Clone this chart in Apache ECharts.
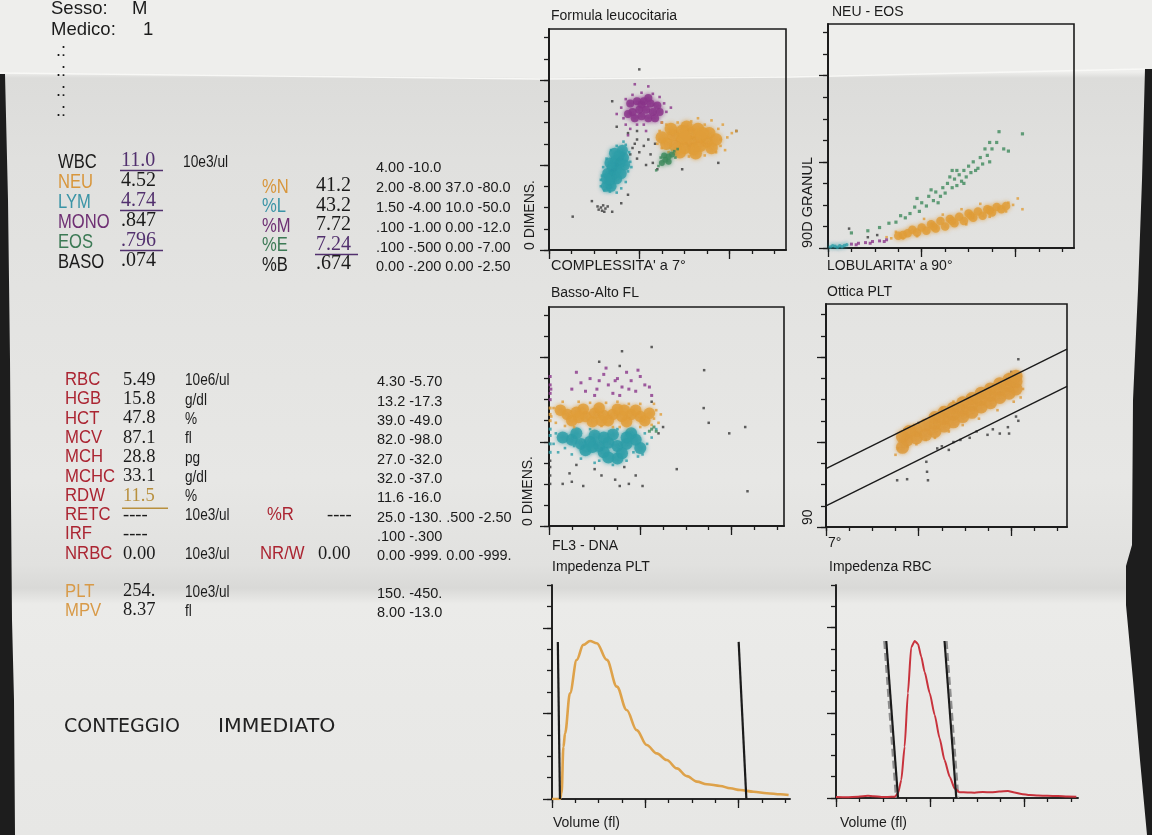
<!DOCTYPE html>
<html>
<head>
<meta charset="utf-8">
<script src="https://cdn.jsdelivr.net/npm/echarts@6/dist/echarts.min.js"></script>
<style>
  html, body { margin: 0; padding: 0; background: #e6e6e4; }
  #report {
    width: 1152px; height: 835px;
    background: linear-gradient(180deg, #eeeeec 0px, #eeeeec 72px, #dcdcda 78px, #e0e0de 160px,
      #e4e4e2 330px, #e7e7e5 480px, #e1e1df 565px, #d9d9d7 588px, #ebebe9 604px, #e9e9e7 700px, #e7e7e5 835px);
  }
</style>
</head>
<body>
<div id="report"></div>
<script>
// ---- referto: testi ----
const headerLabels = ["Sesso:", "Medico:"];
const headerValues = ["M", "1"];
const wbcLabels = ["WBC", "NEU", "LYM", "MONO", "EOS", "BASO"];
const wbcValues = ["11.0", "4.52", "4.74", ".847", ".796", ".074"];
const wbcFlags = ["H", "", "H", "", "H", ""];
const pctLabels = ["%N", "%L", "%M", "%E", "%B"];
const pctValues = ["41.2", "43.2", "7.72", "7.24", ".674"];
const pctFlags = ["", "", "", "H", ""];
const wbcRanges = ["4.00 -10.0", "2.00 -8.00 37.0 -80.0", "1.50 -4.00 10.0 -50.0",
  ".100 -1.00 0.00 -12.0", ".100 -.500 0.00 -7.00", "0.00 -.200 0.00 -2.50"];
const rbcLabels = ["RBC", "HGB", "HCT", "MCV", "MCH", "MCHC", "RDW", "RETC", "IRF", "NRBC"];
const rbcValues = ["5.49", "15.8", "47.8", "87.1", "28.8", "33.1", "11.5", "----", "----", "0.00"];
const rbcFlags = ["", "", "", "", "", "", "L", "", "", ""];
const rbcUnits = ["10e6/ul", "g/dl", "%", "fl", "pg", "g/dl", "%", "10e3/ul", "", "10e3/ul"];
const rbcRanges = ["4.30 -5.70", "13.2 -17.3", "39.0 -49.0", "82.0 -98.0", "27.0 -32.0",
  "32.0 -37.0", "11.6 -16.0", "25.0 -130. .500 -2.50", ".100 -.300", "0.00 -999. 0.00 -999."];
const extraLabels = ["%R", "NR/W"];
const extraValues = ["----", "0.00"];
const pltLabels = ["PLT", "MPV"];
const pltValues = ["254.", "8.37"];
const pltUnits = ["10e3/ul", "fl"];
const pltRanges = ["150. -450.", "8.00 -13.0"];
const note = ["CONTEGGIO", "IMMEDIATO"];

// ---- tacche degli assi ----
const minorTicks = [0, 1, 2, 3, 4, 5, 6, 7, 8, 9, 10];
const majorTicks = [0, 4, 8];

// ---- Formula leucocitaria ----
const flNeuCore = [[5.2,5.0],[5.5,5.4],[5.6,4.9],[5.9,5.2],[5.9,5.6],[6.0,4.8],[6.3,5.1],[6.3,5.5],[6.4,4.75],[6.7,5.3],[6.7,4.9],[7.0,5.1],[7.1,5.5],[7.2,4.8],[5.4,5.7],[6.1,5.8],[6.6,5.7],[5.0,5.3],[7.4,5.2],[5.8,4.6],[6.5,4.55],[6.0,5.35],[6.8,5.5]];
const flNeuHalo = [[4.9,5.2],[4.9,5.6],[5.0,4.8],[5.2,5.9],[5.7,6.0],[6.3,6.05],[6.9,5.9],[7.5,5.7],[7.6,5.2],[7.6,4.9],[7.4,4.6],[6.9,4.45],[6.2,4.4],[5.5,4.55],[7.9,5.3],[8.1,5.5],[7.8,4.7],[6.6,6.2],[5.0,6.0],[7.2,6.1],[4.8,5.0],[8.3,5.6],[5.3,4.6],[7.7,5.9]];
const flLymCore = [[2.55,3.0],[2.7,3.3],[2.6,3.6],[2.85,3.55],[2.8,3.9],[3.0,3.8],[2.95,4.2],[3.15,4.1],[3.1,4.45],[3.3,4.35],[3.25,4.7],[2.75,3.0],[3.0,3.35],[2.7,4.1],[3.35,4.0],[3.2,3.6],[2.55,3.35],[2.9,4.55]];
const flLymHalo = [[2.3,3.0],[2.35,3.5],[2.4,3.9],[2.55,4.3],[2.75,4.7],[3.0,4.9],[3.4,4.95],[3.55,4.6],[3.6,4.15],[3.5,3.7],[3.4,3.2],[3.2,2.9],[3.0,2.7],[2.7,2.75],[2.45,2.8],[3.65,3.9],[3.3,5.1],[2.3,3.3]];
const flMonoCore = [[3.6,6.9],[3.9,7.0],[4.2,7.0],[4.5,6.9],[4.8,6.8],[3.7,6.5],[4.0,6.6],[4.3,6.6],[4.6,6.5],[3.8,6.2],[4.1,6.3],[4.4,6.2],[4.7,6.2],[4.9,6.5],[3.5,6.4],[4.1,6.85],[4.4,7.15]];
const flMonoHalo = [[3.2,6.7],[3.3,6.2],[3.4,5.9],[3.6,5.7],[3.9,5.9],[4.2,5.9],[5.0,6.0],[5.2,6.5],[5.1,6.9],[4.9,7.2],[4.6,7.35],[4.1,7.4],[3.7,7.3],[3.4,7.1],[4.4,7.7],[3.8,7.8],[5.4,6.7],[3.0,6.4],[3.5,5.4],[4.3,5.6]];
const flEosCore = [[5.0,4.1],[5.15,4.25],[5.3,4.4],[5.1,4.45],[5.3,4.15],[5.45,4.5]];
const flEosHalo = [[4.85,3.95],[5.55,4.65],[5.6,4.35],[4.95,4.35],[5.7,4.75],[4.75,3.75]];
const flDebris = [[2.2,1.9],[2.3,2.0],[2.4,2.1],[2.5,1.95],[2.35,1.85],[2.6,2.05],[2.15,2.05],[2.45,1.8],[3.7,4.8],[3.8,5.0],[3.9,5.2],[4.0,4.6],[4.2,4.9],[4.5,4.5],[4.4,5.2],[4.6,4.1],[4.8,3.8],[4.3,4.0],[3.6,4.5],[3.9,4.3],[3.5,5.5],[4.7,5.0],[3.9,5.6],[1.9,2.3],[3.2,2.2],[3.5,2.6],[2.8,1.8],[1.05,1.57],[5.9,3.8],[7.5,4.1],[8.3,5.6],[4.0,8.5],[2.8,7.0],[3.0,5.8]];

// ---- NEU - EOS ----
const neNeuCore = [[3.0,0.57],[3.2,0.6],[3.4,0.69],[3.6,0.85],[3.8,0.72],[4.0,0.95],[4.2,0.8],[4.4,1.1],[4.5,1.0],[4.6,0.9],[4.8,1.25],[5.0,1.0],[5.2,1.35],[5.3,1.25],[5.4,1.15],[5.6,1.45],[5.8,1.25],[6.0,1.6],[6.1,1.5],[6.2,1.4],[6.4,1.7],[6.6,1.5],[6.8,1.8],[6.9,1.75],[7.0,1.65],[7.2,1.9],[7.4,1.8],[7.6,1.95]];
const neNeuHalo = [[2.7,0.45],[2.9,0.75],[3.2,0.45],[7.7,2.1],[7.9,2.0],[8.1,2.3],[7.6,1.7],[4.1,1.35],[4.9,1.55],[5.7,1.8],[6.5,2.05],[5.9,1.1],[6.9,1.45],[3.8,0.55],[8.3,1.8],[2.5,0.5]];
const neEos = [[3.5,1.6],[3.7,1.9],[3.9,1.7],[4.0,2.1],[4.2,1.95],[4.3,2.4],[4.5,2.2],[4.6,2.6],[4.8,2.4],[4.9,2.8],[5.0,2.55],[5.1,3.0],[5.3,2.8],[5.4,3.2],[5.5,2.9],[5.6,3.4],[5.7,3.1],[5.8,3.6],[5.9,3.3],[6.0,3.8],[6.1,3.5],[6.2,4.0],[6.4,3.7],[6.5,4.2],[6.6,3.9],[6.8,4.3],[6.9,4.0],[7.0,4.6],[4.4,2.7],[5.2,3.3],[5.8,3.0],[6.3,3.6],[4.7,2.1],[5.5,3.6],[6.7,4.6],[3.3,1.4],[3.1,1.5],[2.9,1.2],[2.6,1.15],[2.2,0.95],[3.8,2.3],[7.2,4.9],[7.3,5.4],[8.3,5.3],[7.5,4.6],[7.7,4.5],[1.0,0.7],[1.7,0.8],[6.9,4.9],[5.3,3.6]];
const neLym = [[0.1,0.05],[0.3,0.08],[0.5,0.1],[0.7,0.12],[0.2,0.1],[0.4,0.04],[0.6,0.06],[0.8,0.15]];
const neMono = [[1.0,0.18],[1.3,0.22],[1.6,0.25],[1.9,0.3],[2.2,0.33],[2.5,0.38],[1.2,0.15],[1.8,0.22],[2.4,0.3]];
const neDebris = [[0.9,0.9],[1.7,0.5],[2.1,0.6]];

// ---- Basso-Alto FL ----
const baNeuCore = [[0.8,5.3],[1.2,5.4],[1.6,5.2],[2.0,5.35],[2.4,5.25],[2.8,5.3],[3.2,5.2],[3.6,5.3],[4.0,5.2],[1.0,5.0],[1.5,5.55],[2.2,5.6],[2.6,5.0],[3.0,5.55],[3.4,4.95],[3.8,5.5],[4.2,5.0],[1.9,4.95],[0.5,5.5],[4.4,5.35],[1.3,5.15],[2.3,5.0],[3.3,5.5]];
const baNeuHalo = [[0.1,5.2],[0.2,5.6],[0.3,4.9],[4.6,5.1],[4.7,5.5],[4.5,4.8],[4.6,5.8],[0.6,5.9],[1.3,5.9],[2.5,5.85],[3.5,5.8],[4.0,5.8],[1.1,4.7],[2.3,4.75],[3.1,4.7],[4.0,4.7],[4.8,4.9],[4.9,5.3],[1.8,5.85],[3.0,5.9],[0.7,4.75],[2.8,4.7]];
const baLymCore = [[1.0,4.1],[1.4,3.9],[1.8,4.0],[2.2,3.8],[2.6,3.95],[3.0,3.8],[3.4,3.9],[3.8,4.1],[1.2,4.4],[2.0,4.3],[2.8,4.35],[3.6,4.4],[1.6,3.6],[2.4,3.5],[3.2,3.45],[3.0,3.2],[2.6,3.25],[0.6,4.2],[4.0,3.7],[1.9,3.75],[2.4,4.2],[3.4,4.2]];
const baLymHalo = [[0.2,3.9],[0.3,4.4],[0.4,3.5],[4.2,4.4],[4.3,3.9],[4.1,3.4],[1.0,3.4],[1.4,3.2],[2.0,3.0],[2.8,2.9],[3.4,3.1],[3.9,3.3],[0.7,3.7],[1.8,4.6],[3.0,4.6],[4.5,4.2],[4.7,4.6],[2.2,3.1],[3.7,3.5],[1.1,3.8]];
const baMono = [[1.4,6.8],[1.8,7.0],[2.1,6.5],[2.4,7.2],[2.6,6.7],[2.8,6.3],[3.0,7.0],[3.2,6.6],[3.4,7.3],[3.6,6.9],[3.8,6.4],[4.0,7.1],[4.2,6.7],[2.2,6.9],[2.9,6.9],[3.5,6.5],[1.6,6.4],[4.4,6.6],[3.9,7.4],[2.5,7.5],[1.2,7.3],[3.1,6.2],[2.0,6.2],[4.5,6.2],[1.0,6.5],[0.05,6.3],[0.05,6.7],[0.05,7.1],[0.08,6.5],[0.05,6.0]];
const baEos = [[4.5,4.6],[4.7,4.5],[4.4,4.5],[4.6,4.7]];
const baEdgeNeu = [[0.05,5.0],[0.05,5.3],[0.05,5.6]];
const baEdgeLym = [[0.05,3.5],[0.05,3.9],[0.05,4.3],[0.05,4.6]];
const baDebris = [[0.05,2.0],[0.05,2.4],[0.05,2.8],[0.05,3.1],[0.6,2.0],[1.0,2.1],[1.5,1.9],[2.3,2.4],[2.9,2.2],[3.1,1.9],[3.5,2.0],[3.8,2.4],[4.1,1.9],[2.0,2.7],[1.2,2.9],[3.3,2.8],[0.9,2.5],[4.5,5.9],[4.8,4.4],[5.0,4.7],[6.8,7.4],[6.78,5.6],[7.0,4.9],[7.9,4.4],[8.6,4.7],[5.6,2.7],[8.7,1.65],[4.5,8.5],[3.2,8.3],[2.2,7.8],[3.1,7.6]];

// ---- Ottica PLT ----
const opPltCore = [[3.3,3.75],[3.3,4.25],[3.5,4.1],[3.6,4.5],[3.9,4.2],[3.9,4.55],[4.3,4.35],[4.3,4.8],[4.7,4.5],[4.7,4.85],[4.7,5.15],[5.1,4.75],[5.1,5.1],[5.1,5.4],[5.5,4.95],[5.5,5.3],[5.5,5.6],[5.9,5.2],[5.9,5.5],[5.9,5.85],[6.3,5.4],[6.3,5.75],[6.3,6.05],[6.7,5.65],[6.7,6.0],[6.7,6.3],[7.1,5.85],[7.1,6.2],[7.1,6.5],[7.5,6.1],[7.5,6.45],[7.5,6.75],[7.9,6.3],[7.9,6.65],[7.9,6.95],[8.2,6.5],[8.2,6.85],[8.2,7.1]];
const opPltHalo = [[3.1,3.7],[3.2,4.1],[3.3,4.5],[3.5,3.8],[3.8,4.8],[3.9,3.9],[4.2,5.0],[4.3,4.1],[4.6,5.3],[4.7,4.2],[5.0,5.6],[5.3,4.5],[5.5,5.9],[5.9,4.8],[6.2,6.2],[6.6,5.1],[7.0,6.6],[7.4,5.5],[7.9,7.2],[8.1,5.9],[8.4,7.1],[8.5,6.5],[8.4,6.1],[3.0,3.4]];
const opDebris = [[6.97,4.34],[5.3,3.63],[4.33,3.07],[4.36,2.6],[3.07,2.2],[3.5,2.25],[4.4,2.2],[8.3,7.9],[8.3,5.0],[7.85,4.7],[7.2,4.6],[7.5,4.4],[6.5,4.5],[6.2,4.2],[5.8,4.1],[5.0,3.8],[4.8,3.7],[7.9,4.4],[8.0,7.3],[4.0,4.9],[5.0,5.5],[6.1,6.1],[7.2,6.7],[7.8,7.0],[3.4,4.6],[8.2,5.2],[5.5,4.0]];
const opGateHigh = [[0, 2.75], [10.4, 8.37]];
const opGateLow = [[0, 1.0], [10.4, 6.62]];

// ---- Impedenza PLT ----
const pltVolume = [0, 0.34, 0.41, 0.49, 0.56, 0.77, 1.06, 1.34, 1.63, 1.92, 2.35, 2.78, 3.2, 3.63, 4.06, 4.49, 4.92, 5.35, 5.78, 6.21, 6.64, 7.21, 7.64, 8.07, 8.64, 9.21, 9.79, 10.14];
const pltCount = [0, 0, 0.27, 2.44, 3.07, 4.94, 6.5, 7.2, 7.38, 7.28, 6.5, 5.25, 4.16, 3.22, 2.52, 2.13, 1.82, 1.43, 1.07, 0.81, 0.69, 0.61, 0.5, 0.42, 0.34, 0.27, 0.22, 0.19];
const pltGateLeft = [[0.25, 7.34], [0.34, 0]];
const pltGateRight = [[8.0, 7.34], [8.33, 0]];

// ---- Impedenza RBC ----
const rbcVolume = [0, 0.45, 0.94, 1.36, 1.6, 1.93, 2.2, 2.5, 2.64, 2.78, 2.92, 3.06, 3.2, 3.35, 3.49, 3.63, 3.77, 3.99, 4.2, 4.41, 4.62, 4.84, 5.05, 5.26, 5.6, 5.9, 6.25, 6.61, 6.95, 7.32, 7.6, 7.89, 8.25, 8.6, 9.0, 9.45, 9.85, 10.23];
const rbcCount = [0.05, 0.04, 0.06, 0.1, 0.08, 0.05, 0.05, 0.06, 0.22, 0.85, 2.41, 4.92, 7.07, 7.37, 7.23, 6.63, 5.93, 4.92, 3.9, 2.8, 1.78, 1.0, 0.45, 0.27, 0.26, 0.25, 0.28, 0.27, 0.3, 0.33, 0.26, 0.19, 0.14, 0.12, 0.1, 0.09, 0.07, 0.06];
const rbcGateLeft = [[2.14, 7.37], [2.64, 0]];
const rbcGateRight = [[4.62, 7.37], [5.12, 0]];
const rbcGateLeftShadow = [[2.05, 7.37], [2.55, 0]];
const rbcGateRightShadow = [[4.71, 7.37], [5.21, 0]];

// ---- stile ----
const INK = "#1b1b1b";
const SANS = "'Liberation Sans', Arial, sans-serif";
const SERIF = "'Liberation Serif', 'Times New Roman', serif";
const ORANGE = "#e09d3a", TEAL = "#2e9ea8", PURPLE = "#8a3489", GREEN = "#3f8a5c", DARK = "#3a3a3a";
const RED_TXT = "#ab2532", FLAG = "#52306e", LOW = "#b8903e";
const wbcColors = [INK, "#d8963c", "#3a94a6", "#6e2f73", "#3c7a55", INK];

const chart = echarts.init(document.getElementById("report"), null, { renderer: "canvas" });

const gfx = [];
function put(text, x, base, size, color, opt) {
  opt = opt || {};
  gfx.push({
    type: "text", x: x, y: base - 0.35 * size, scaleX: opt.sx || 1, z: 20, silent: true,
    style: {
      text: text, fill: color, fontSize: size, fontFamily: opt.font || SANS,
      align: "left", verticalAlign: "middle", textAlign: "left", textVerticalAlign: "middle"
    }
  });
}
function putV(text, cx, bottom, size) {
  gfx.push({
    type: "text", x: cx, y: bottom, rotation: Math.PI / 2, z: 20, silent: true,
    style: {
      text: text, fill: INK, fontSize: size, fontFamily: SANS,
      align: "left", verticalAlign: "middle", textAlign: "left", textVerticalAlign: "middle"
    }
  });
}
function underline(x, y, w, color) {
  gfx.push({ type: "line", z: 20, silent: true, shape: { x1: x, y1: y, x2: x + w, y2: y },
    style: { stroke: color, lineWidth: 1.4 } });
}

// carta: lembo superiore, piega, bordi scuri
gfx.push({ type: "polygon", z: -10, silent: true,
  shape: { points: [[0, 0], [1152, 0], [1152, 68], [1145, 68], [790, 76], [540, 78], [0, 72]] },
  style: { fill: "#eeeeec" } });
gfx.push({ type: "polyline", z: -9, silent: true,
  shape: { points: [[0, 73], [540, 79], [790, 77], [1145, 69]] },
  style: { stroke: "#f8f8f6", lineWidth: 1.5 } });
gfx.push({ type: "polygon", z: 30, silent: true,
  shape: { points: [[1146, 69], [1152, 69], [1152, 835], [1147, 835], [1140, 760], [1133, 680], [1126, 605], [1126, 566], [1132, 545], [1133, 400], [1138, 290], [1142, 180], [1145, 69]] },
  style: { fill: "#1d1d1d" } });
gfx.push({ type: "polygon", z: 30, silent: true,
  shape: { points: [[0, 74], [5, 74], [8, 200], [10, 360], [11, 500], [12, 620], [14, 700], [15, 835], [0, 835]] },
  style: { fill: "#1d1d1d" } });

// intestazione
put(headerLabels[0], 51, 15.5, 18.5, INK);
put(headerValues[0], 132, 15.5, 18.5, INK);
put(headerLabels[1], 51, 36, 18.5, INK);
put(headerValues[1], 143, 36, 18.5, INK);
[57, 77, 97, 117].forEach(b => put(".:", 56, b, 18, INK));

// blocco WBC
const wbcBase = [169, 189, 209, 229, 249, 269];
const pctBase = [194, 213.5, 233, 252.5, 272];
const rangeBase = [173, 193, 213, 233, 253, 272];
wbcLabels.forEach((t, i) => {
  put(t, 58, wbcBase[i], 20, wbcColors[i], { sx: 0.83 });
  const flagged = wbcFlags[i] === "H";
  put(wbcValues[i], 121, wbcBase[i] - 1, 20, flagged ? FLAG : INK, { font: SERIF });
  if (flagged) underline(120, wbcBase[i] + 1.5, 43, FLAG);
  put(wbcRanges[i], 376, rangeBase[i], 14.5, INK);
});
put("10e3/ul", 183, 168, 16, INK, { sx: 0.86 });
pctLabels.forEach((t, i) => {
  put(t, 262, pctBase[i], 20, wbcColors[i + 1], { sx: 0.83 });
  const flagged = pctFlags[i] === "H";
  put(pctValues[i], 316, pctBase[i] - 1, 20, flagged ? FLAG : INK, { font: SERIF });
  if (flagged) underline(315, pctBase[i] + 2, 43, FLAG);
});

// blocco RBC
const rbcBase = [386.5, 405.8, 425.1, 444.4, 463.7, 483, 502.3, 521.6, 540.9, 560.2];
rbcLabels.forEach((t, i) => {
  put(t, 65, rbcBase[i], 19, RED_TXT, { sx: 0.88 });
  const low = rbcFlags[i] === "L";
  put(rbcValues[i], 123, rbcBase[i], 18.5, low ? LOW : INK, { font: SERIF });
  if (low) underline(122, rbcBase[i] + 6, 46, LOW);
  if (rbcUnits[i]) put(rbcUnits[i], 185, rbcBase[i], 16, INK, { sx: 0.85 });
  put(rbcRanges[i], 377, rbcBase[i] + 1, 14.5, INK);
});
put(extraLabels[0], 267, rbcBase[7], 19, RED_TXT, { sx: 0.88 });
put(extraValues[0], 327, rbcBase[7], 18.5, INK, { font: SERIF });
put(extraLabels[1], 260, rbcBase[9], 19, RED_TXT, { sx: 0.88 });
put(extraValues[1], 318, rbcBase[9], 18.5, INK, { font: SERIF });

// blocco PLT
const pltBase = [598, 617];
pltLabels.forEach((t, i) => {
  put(t, 65, pltBase[i], 19, "#d89a48", { sx: 0.88 });
  put(pltValues[i], 123, pltBase[i], 18.5, INK, { font: SERIF });
  put(pltUnits[i], 185, pltBase[i], 16, INK, { sx: 0.85 });
  put(pltRanges[i], 377, pltBase[i] + 1, 14.5, INK);
});

// nota a mano
put(note[0], 64, 734, 19, "#222", { font: "'DejaVu Sans', sans-serif", sx: 1.0 });
put(note[1], 218, 734, 19, "#222", { font: "'DejaVu Sans', sans-serif", sx: 1.08 });

// titoli e nomi degli assi dei grafici
put("Formula leucocitaria", 551, 21, 14, INK);
put("NEU - EOS", 832, 17, 14, INK);
put("COMPLESSITA' a 7°", 551, 271, 14.5, INK);
put("LOBULARITA' a 90°", 827, 271, 14, INK);
put("Basso-Alto FL", 551, 298, 14, INK);
put("Ottica PLT", 827, 297, 14, INK);
put("FL3 - DNA", 552, 551, 14, INK);
put("7°", 828, 548, 14, INK);
put("Impedenza PLT", 552, 572, 14, INK);
put("Impedenza RBC", 829, 572, 14, INK);
put("Volume (fl)", 553, 828, 14, INK);
put("Volume (fl)", 840, 828, 14, INK);
putV("0 DIMENS.", 530, 250, 14);
putV("90D GRANUL", 808, 248, 14.5);
putV("0 DIMENS.", 528, 526, 14);
putV("90", 808, 525, 14);

// ---- griglie ----
const panels = [
  { left: 549, top: 29, width: 237, height: 221, xMax: 10.5, yMax: 10.4, box: true },
  { left: 828, top: 24, width: 246, height: 224, xMax: 10.5, yMax: 10.4, box: true },
  { left: 549, top: 307, width: 235, height: 219, xMax: 10.3, yMax: 10.4, box: true },
  { left: 826, top: 304, width: 241, height: 223, xMax: 10.4, yMax: 10.5, box: true },
  { left: 552, top: 585, width: 238, height: 214, xMax: 10.2, yMax: 10, box: false },
  { left: 836, top: 585, width: 242, height: 213, xMax: 10.3, yMax: 10, box: false }
];

function axis(i, pos, max, ticks, len) {
  return {
    type: "value", gridIndex: i, position: pos, offset: 0, min: 0, max: max,
    axisLine: { show: true, onZero: false, lineStyle: { color: INK, width: 1.6 } },
    axisTick: { show: true, customValues: ticks, length: len, lineStyle: { color: INK, width: 1.3 } },
    axisLabel: { show: false },
    splitLine: { show: false }
  };
}

const grids = [], xAxes = [], yAxes = [];
panels.forEach((p, i) => {
  grids.push({
    left: p.left, top: p.top, width: p.width, height: p.height,
    show: p.box, borderColor: INK, borderWidth: 1.6, backgroundColor: "transparent",
    containLabel: false, outerBoundsMode: "none"
  });
  xAxes.push(axis(i, "bottom", p.xMax, minorTicks, 4), axis(i, "bottom", p.xMax, majorTicks, 9));
  yAxes.push(axis(i, "left", p.yMax, minorTicks, 5), axis(i, "left", p.yMax, majorTicks, 9));
});

// ---- serie ----
const series = [];
function dots(panel, data, color, size, shape) {
  const core = !shape;
  series.push({
    type: "scatter", xAxisIndex: panel * 2, yAxisIndex: panel * 2, data: data,
    symbol: shape || "circle", symbolSize: size,
    itemStyle: core ? { color: color, shadowBlur: 4, shadowColor: color } : { color: color },
    silent: true, z: 3
  });
}
function trace(panel, data, color, width, opt) {
  opt = opt || {};
  series.push({
    type: "line", xAxisIndex: panel * 2, yAxisIndex: panel * 2, data: data,
    symbol: "none", showSymbol: false, smooth: opt.smooth || false, smoothMonotone: "x",
    lineStyle: { color: color, width: width, type: opt.type || "solid" },
    silent: true, z: opt.z || 4
  });
}

// Formula leucocitaria
dots(0, flDebris, DARK, 2.5, "rect");
dots(0, flMonoHalo, PURPLE, 2.6, "rect");
dots(0, flMonoCore, PURPLE, 8);
dots(0, flLymHalo, TEAL, 2.6, "rect");
dots(0, flLymCore, TEAL, 11);
dots(0, flNeuHalo, ORANGE, 2.6, "rect");
dots(0, flNeuCore, ORANGE, 12.5);
dots(0, flEosHalo, GREEN, 2.6, "rect");
dots(0, flEosCore, GREEN, 6);

// NEU - EOS
dots(1, neDebris, DARK, 2.5, "rect");
dots(1, neEos, GREEN, 3.2, "rect");
dots(1, neNeuHalo, ORANGE, 2.6, "rect");
dots(1, neNeuCore, ORANGE, 8.5);
dots(1, neMono, PURPLE, 3, "rect");
dots(1, neLym, TEAL, 3.5);

// Basso-Alto FL
dots(2, baDebris, DARK, 2.5, "rect");
dots(2, baMono, PURPLE, 3, "rect");
dots(2, baLymHalo, TEAL, 2.6, "rect");
dots(2, baLymCore, TEAL, 12);
dots(2, baEdgeLym, TEAL, 3, "rect");
dots(2, baNeuHalo, ORANGE, 2.6, "rect");
dots(2, baNeuCore, ORANGE, 11.5);
dots(2, baEdgeNeu, ORANGE, 3, "rect");
dots(2, baEos, GREEN, 3, "rect");

// Ottica PLT
trace(3, opGateHigh, INK, 1.4);
trace(3, opGateLow, INK, 1.4);
dots(3, opDebris, DARK, 2.5, "rect");
dots(3, opPltHalo, "#dc9a3c", 2.6, "rect");
dots(3, opPltCore, "#dc9a3c", 13);

// Impedenza PLT
trace(4, pltVolume.map((v, i) => [v, pltCount[i]]), "#dea24a", 2.6, { smooth: 0.35 });
trace(4, pltGateLeft, INK, 2.2, { z: 5 });
trace(4, pltGateRight, INK, 2.2, { z: 5 });

// Impedenza RBC
trace(5, rbcGateLeftShadow, "#8d8d8d", 2, { type: "dashed", z: 3 });
trace(5, rbcGateRightShadow, "#8d8d8d", 2, { type: "dashed", z: 3 });
trace(5, rbcVolume.map((v, i) => [v, rbcCount[i]]), "#c8323c", 2, { smooth: 0.2 });
trace(5, rbcGateLeft, INK, 2.2, { z: 5 });
trace(5, rbcGateRight, INK, 2.2, { z: 5 });

chart.setOption({
  animation: false,
  backgroundColor: "transparent",
  graphic: { elements: gfx },
  grid: grids,
  xAxis: xAxes,
  yAxis: yAxes,
  series: series
});
</script>
</body>
</html>
